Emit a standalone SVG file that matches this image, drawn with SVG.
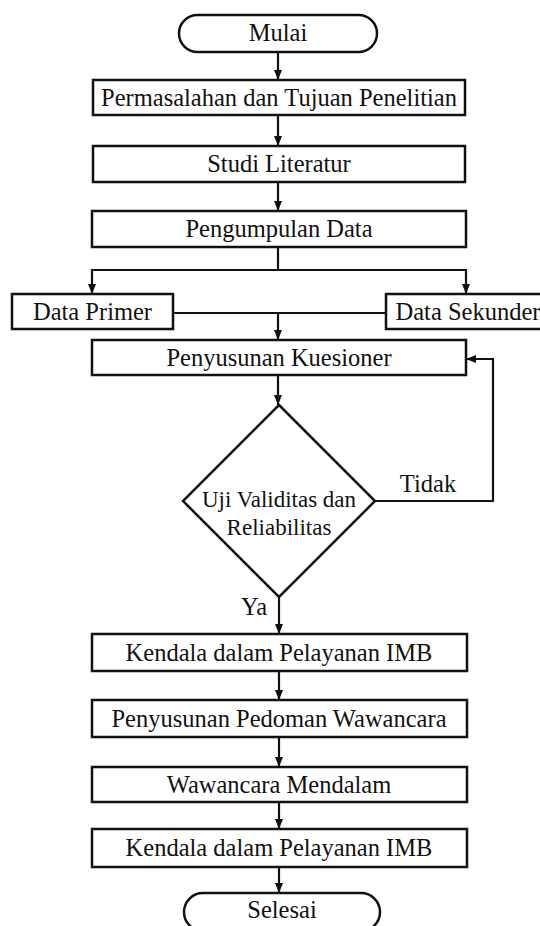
<svg xmlns="http://www.w3.org/2000/svg" width="540" height="926" viewBox="0 0 540 926">
<defs>
<style>
.box{fill:#fff;stroke:#111;stroke-width:2.5}
.t{font-family:"Liberation Serif","Times New Roman",serif;font-size:24.5px;fill:#111;text-anchor:middle}
.c{fill:none;stroke:#111;stroke-width:2.2}
</style>
<marker id="ah" markerUnits="userSpaceOnUse" markerWidth="10" markerHeight="10" viewBox="0 0 10 10" refX="10" refY="5" orient="auto">
<path d="M0,1 L10,5 L0,9 Z" fill="#111"/>
</marker>
</defs>
<rect width="540" height="926" fill="#fff"/>
<g id="connectors">
<line class="c" x1="278" y1="52" x2="278" y2="80" marker-end="url(#ah)"/>
<line class="c" x1="278" y1="115" x2="278" y2="146" marker-end="url(#ah)"/>
<line class="c" x1="278" y1="182" x2="278" y2="211" marker-end="url(#ah)"/>
<polyline class="c" points="278,247 278,270"/>
<polyline class="c" points="92,271 92,270 466,270 466,271"/>
<line class="c" x1="92" y1="270" x2="92" y2="294" marker-end="url(#ah)"/>
<line class="c" x1="466" y1="270" x2="466" y2="294" marker-end="url(#ah)"/>
<line class="c" x1="173" y1="313" x2="386" y2="313"/>
<line class="c" x1="278" y1="313" x2="278" y2="340" marker-end="url(#ah)"/>
<line class="c" x1="278" y1="375" x2="278" y2="405" marker-end="url(#ah)"/>
<polyline class="c" points="375,501 493,501 493,359 466,359" marker-end="url(#ah)"/>
<line class="c" x1="279" y1="597" x2="279" y2="634" marker-end="url(#ah)"/>
<line class="c" x1="279" y1="671" x2="279" y2="700" marker-end="url(#ah)"/>
<line class="c" x1="279" y1="737" x2="279" y2="767" marker-end="url(#ah)"/>
<line class="c" x1="279" y1="802" x2="279" y2="829" marker-end="url(#ah)"/>
<line class="c" x1="279" y1="867" x2="279" y2="893" marker-end="url(#ah)"/>
<text class="t" x="428" y="492">Tidak</text>
<text class="t" x="254" y="615">Ya</text>
</g>
<g id="mulai"><rect class="box" x="179" y="15" width="198" height="37" rx="18.5"/><text class="t" x="278" y="41">Mulai</text></g>
<g id="permasalahan"><rect class="box" x="93" y="80" width="372" height="35"/><text class="t" x="279" y="106">Permasalahan dan Tujuan Penelitian</text></g>
<g id="studi"><rect class="box" x="93" y="146" width="372" height="36"/><text class="t" x="279" y="172">Studi Literatur</text></g>
<g id="pengumpulan"><rect class="box" x="92" y="211" width="374" height="36"/><text class="t" x="279" y="237">Pengumpulan Data</text></g>
<g id="primer"><rect class="box" x="12" y="294" width="161" height="35"/><text class="t" x="92.5" y="320">Data Primer</text></g>
<g id="sekunder"><rect class="box" x="386" y="294" width="164" height="35"/><text class="t" x="468" y="320">Data Sekunder</text></g>
<g id="kuesioner"><rect class="box" x="92" y="340" width="374" height="35"/><text class="t" x="279" y="366">Penyusunan Kuesioner</text></g>
<g id="uji"><polygon class="box" points="279,405 375,501 279,597 183,501"/><text class="t" x="279" y="507" style="font-size:23px">Uji Validitas dan</text><text class="t" x="279" y="535" style="font-size:23px">Reliabilitas</text></g>
<g id="kendala1"><rect class="box" x="92" y="634" width="375" height="37"/><text class="t" x="279" y="661">Kendala dalam Pelayanan IMB</text></g>
<g id="pedoman"><rect class="box" x="92" y="700" width="375" height="37"/><text class="t" x="279" y="727">Penyusunan Pedoman Wawancara</text></g>
<g id="wawancara"><rect class="box" x="92" y="767" width="375" height="35"/><text class="t" x="279" y="793">Wawancara Mendalam</text></g>
<g id="kendala2"><rect class="box" x="92" y="829" width="375" height="38"/><text class="t" x="279" y="856">Kendala dalam Pelayanan IMB</text></g>
<g id="selesai"><rect class="box" x="184" y="893" width="196" height="38" rx="19"/><text class="t" x="282" y="918">Selesai</text></g>
</svg>
